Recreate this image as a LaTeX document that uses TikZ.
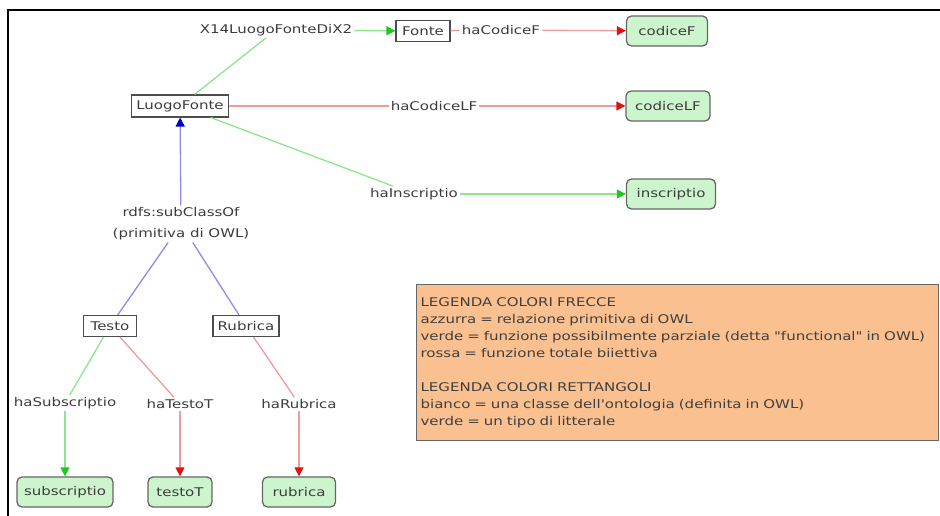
\documentclass[tikz,border=0pt]{standalone}
\usepackage{fontspec}
\setmainfont{DejaVu Sans}[FakeStretch=1.25]
\newfontfamily\dvs{DejaVu Sans}[FakeStretch=1.25]
\usetikzlibrary{arrows.meta}
\definecolor{glight}{RGB}{140,230,140}
\definecolor{gdark}{RGB}{30,200,30}
\definecolor{rlight}{RGB}{238,155,155}
\definecolor{rdark}{RGB}{220,20,20}
\definecolor{blight}{RGB}{140,140,235}
\definecolor{bdark}{RGB}{0,0,200}
\definecolor{litfill}{RGB}{205,245,205}
\definecolor{legfill}{RGB}{250,192,143}
\definecolor{txt}{RGB}{60,60,60}
\tikzset{
  lbl/.style={text=txt, inner sep=2pt, font=\dvs\fontsize{12}{21}\selectfont},
  cls/.style={draw=black!70, line width=1.1pt, fill=white, text=txt, inner sep=2pt, minimum height=21pt, font=\dvs\fontsize{12}{12}\selectfont},
  lit/.style={draw=black!60, line width=1.3pt, fill=litfill, rounded corners=5pt, text=txt, minimum height=30pt, inner xsep=4pt, font=\dvs\fontsize{12}{12}\selectfont},
  gline/.style={glight, line width=1.3pt},
  rline/.style={rlight, line width=1.3pt},
  bline/.style={blight, line width=1.3pt},
  garrow/.style={gline, -{Triangle[length=9pt,width=9pt,color=gdark]}},
  rarrow/.style={rline, -{Triangle[length=9pt,width=9pt,color=rdark]}},
  barrow/.style={bline, -{Triangle[length=9pt,width=9pt,color=bdark]}},
  legend/.style={draw=black!60, line width=1.2pt, fill=legfill, text=black!75, align=left, anchor=north west, inner xsep=4pt, inner ysep=2.5pt, font=\dvs\fontsize{12}{17}\selectfont}
}
\begin{document}
\begin{tikzpicture}[x=1pt,y=-1pt]
\useasboundingbox (0,0) rectangle (940,516);
\draw[line width=1.2pt] (8,516) -- (8,10) -- (940,10);
\node[lbl] (x14) at (276,30) {X14LuogoFonteDiX2};
\node[cls, minimum width=54pt] (fonte) at (423,31) {Fonte};
\node[lbl] (hcf) at (501,30) {haCodiceF};
\node[lit, minimum width=81pt] (codF) at (667,31) {codiceF};
\node[cls, minimum width=97pt, minimum height=22pt] (lf) at (180,106) {LuogoFonte};
\node[lbl] (hclf) at (434,106) {haCodiceLF};
\node[lit, minimum width=84pt] (codLF) at (668,106) {codiceLF};
\node[lbl] (hins) at (414,194) {haInscriptio};
\node[lit, minimum width=89pt] (ins) at (671,194) {inscriptio};
\node[lbl, align=center] (sub) at (181,224) {rdfs:subClassOf\\(primitiva di OWL)};
\node[cls, minimum width=53pt] (testo) at (110,326) {Testo};
\node[cls, minimum width=66pt] (rub) at (246,326) {Rubrica};
\node[lbl] (hsub) at (65,403) {haSubscriptio};
\node[lbl] (htt) at (180,404) {haTestoT};
\node[lbl] (hrub) at (299,404) {haRubrica};
\node[lit, minimum width=96pt] (subs) at (65,492) {subscriptio};
\node[lit, minimum width=64pt] (tt) at (180,492) {testoT};
\node[lit, minimum width=73pt] (rubl) at (299,492) {rubrica};
\node[legend, text width=514pt, minimum height=156pt] (leg) at (416,284) {LEGENDA COLORI FRECCE\\
azzurra = relazione primitiva di OWL\\
verde = funzione possibilmente parziale (detta "functional" in OWL)\\
rossa = funzione totale biiettiva\\[17pt]
LEGENDA COLORI RETTANGOLI\\
bianco = una classe dell'ontologia (definita in OWL)\\
verde = un tipo di litterale};
\draw[gline] (lf) -- (x14);
\draw[garrow] (x14) -- (fonte);
\draw[rline] (fonte) -- (hcf);
\draw[rarrow] (hcf) -- (codF);
\draw[rline] (lf) -- (hclf);
\draw[rarrow] (hclf) -- (codLF);
\draw[gline] (lf) -- (hins);
\draw[garrow] (hins) -- (ins);
\draw[barrow] (sub) -- (lf);
\draw[bline] (testo) -- (sub);
\draw[bline] (rub) -- (sub);
\draw[gline] (testo) -- (hsub);
\draw[garrow] (hsub) -- (subs);
\draw[rline] (testo) -- (htt);
\draw[rarrow] (htt) -- (tt);
\draw[rline] (rub) -- (hrub);
\draw[rarrow] (hrub) -- (rubl);
\end{tikzpicture}
\end{document}
